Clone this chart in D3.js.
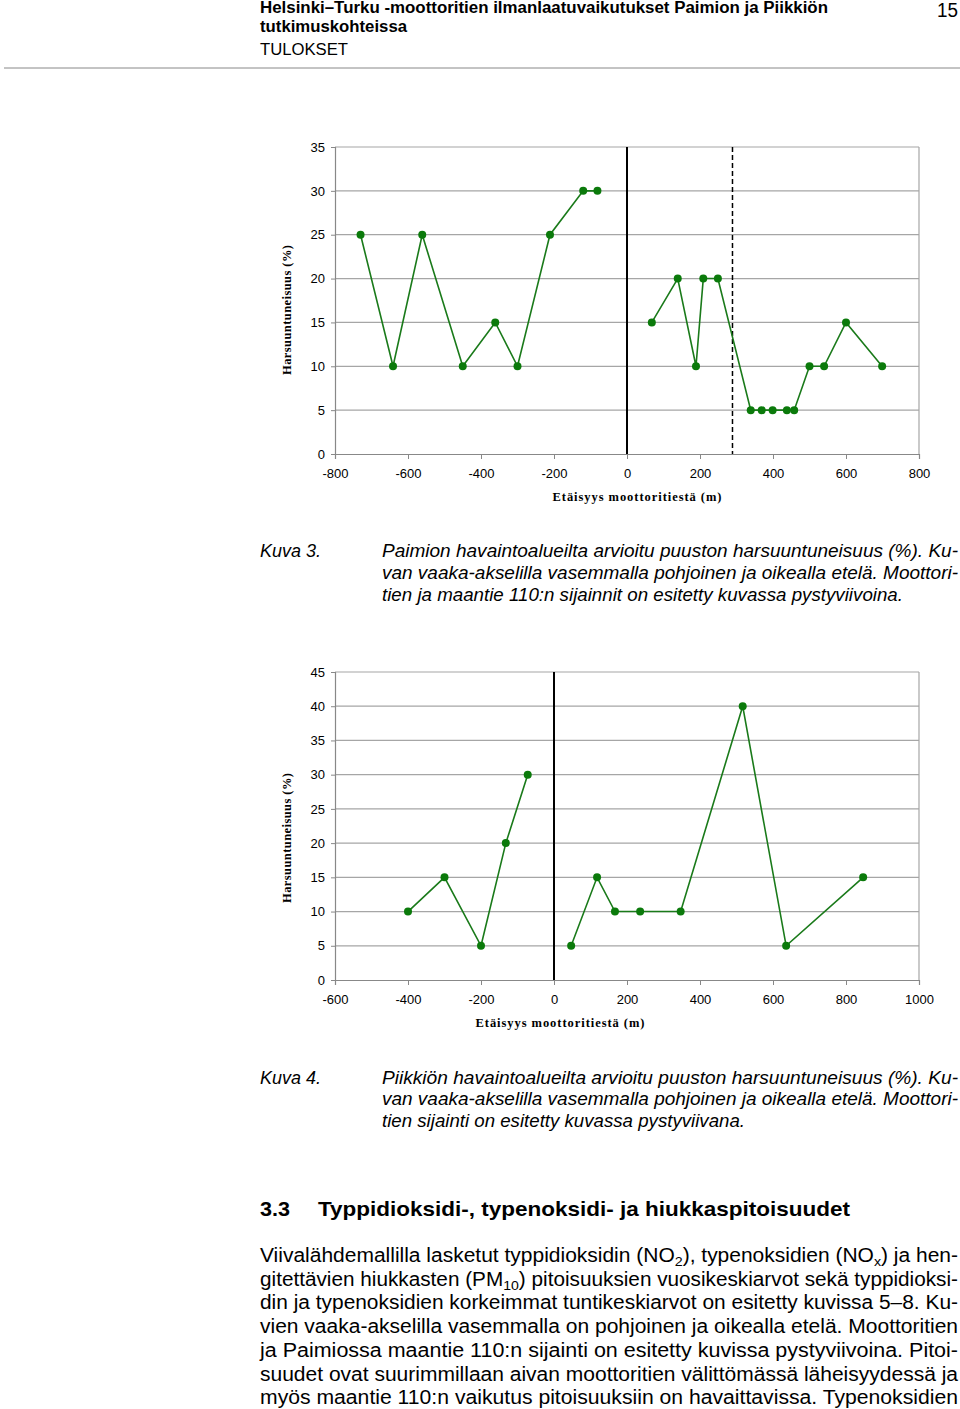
<!DOCTYPE html>
<html><head><meta charset="utf-8">
<script src="https://cdn.jsdelivr.net/npm/d3@7"></script>
<style>
html,body{margin:0;padding:0;background:#fff;}
svg{display:block;}
</style></head>
<body>
<script>
// ---- Data ----
// Kuva 3: Paimio
const paimioNorthX = [-730, -641, -561, -450, -361, -300, -211, -120, -81];
const paimioNorthY = [25, 10, 25, 10, 15, 10, 25, 30, 30];
const paimioSouthX = [68, 139, 189, 209, 249, 339, 369, 399, 438, 458, 500, 540, 600, 699];
const paimioSouthY = [15, 20, 10, 20, 20, 5, 5, 5, 5, 5, 10, 10, 15, 10];
const paimioRoads = [0];        // moottoritie (solid)
const paimioRoad110 = [289];    // maantie 110 (dashed)
const paimioXTicks = [-800, -600, -400, -200, 0, 200, 400, 600, 800];
const paimioYTicks = [0, 5, 10, 15, 20, 25, 30, 35];

// Kuva 4: Piikkiö
const piikkioNorthX = [-400, -300, -200, -132, -72];
const piikkioNorthY = [10, 15, 5, 20, 30];
const piikkioSouthX = [47, 118, 167, 236, 347, 517, 636, 847];
const piikkioSouthY = [5, 15, 10, 10, 10, 40, 5, 15];
const piikkioRoads = [0];
const piikkioXTicks = [-600, -400, -200, 0, 200, 400, 600, 800, 1000];
const piikkioYTicks = [0, 5, 10, 15, 20, 25, 30, 35, 40, 45];

const xTitle = "Etäisyys moottoritiestä (m)";
const yTitle = "Harsuuntuneisuus (%)";

// ---- Page ----
const W = 960, H = 1409;
const SANS = "Liberation Sans, Arial, sans-serif";
const SERIF = "Liberation Serif, Times New Roman, serif";
const svg = d3.select("body").append("svg").attr("width", W).attr("height", H)
  .attr("font-family", SANS);
svg.append("rect").attr("width", W).attr("height", H).attr("fill", "#fff");

function txt(x, y, s, opts = {}) {
  const size = opts.size || 16;
  const t = svg.append("text").attr("x", x).attr("y", y)
    .attr("font-family", SANS)
    .attr("font-size", size)
    .attr("fill", "#000")
    .attr("font-weight", opts.bold ? "bold" : null)
    .attr("font-style", opts.italic ? "italic" : null)
    .attr("text-anchor", opts.anchor || "start");
  if (Array.isArray(s)) {
    let shifted = false;
    s.forEach(p => {
      if (typeof p === "string") {
        t.append("tspan").attr("dy", shifted ? -4 : null).text(p);
        shifted = false;
      } else {
        t.append("tspan").attr("dy", 4).attr("font-size", size * 0.68).text(p.sub);
        shifted = true;
      }
    });
  } else t.text(s);
  if (opts.width) t.attr("textLength", opts.width).attr("lengthAdjust", "spacingAndGlyphs");
  return t;
}

// Header
txt(260, 13, "Helsinki–Turku -moottoritien ilmanlaatuvaikutukset Paimion ja Piikkiön", {size: 16, bold: true, width: 568});
txt(260, 32, "tutkimuskohteissa", {size: 16, bold: true, width: 147});
txt(260, 55, "TULOKSET", {size: 16, width: 88});
txt(958, 17, "15", {size: 20, anchor: "end", width: 21});
svg.append("line").attr("x1", 4).attr("x2", 960).attr("y1", 68).attr("y2", 68)
  .attr("stroke", "#888").attr("stroke-width", 1);

// ---- Chart builder ----
function chart(cfg) {
  const g = svg.append("g");
  const x = d3.scaleLinear().domain(cfg.xDomain).range([335, 919]);
  const y = d3.scaleLinear().domain(cfg.yDomain).range([cfg.bottom, cfg.top]);
  // grid
  g.selectAll(".grid").data(cfg.yTicks.slice(1)).join("line")
    .attr("x1", 335).attr("x2", 919).attr("y1", d => y(d)).attr("y2", d => y(d))
    .attr("stroke", "#a6a6a6").attr("stroke-width", 1.2);
  // right border
  g.append("line").attr("x1", 919).attr("x2", 919).attr("y1", cfg.top).attr("y2", cfg.bottom)
    .attr("stroke", "#a6a6a6").attr("stroke-width", 1.2);
  // axes
  const fmt = d => String(d);
  const ax = g.append("g").attr("transform", `translate(0,${cfg.bottom})`)
    .call(d3.axisBottom(x).tickValues(cfg.xTicks).tickSize(5).tickPadding(10).tickFormat(fmt));
  const ay = g.append("g").attr("transform", "translate(335,0)")
    .call(d3.axisLeft(y).tickValues(cfg.yTicks).tickSize(4).tickPadding(6).tickFormat(fmt));
  [ax, ay].forEach(a => {
    a.attr("font-family", SANS).attr("font-size", 13);
    a.select(".domain").attr("stroke", "#888").attr("stroke-width", 1.2);
    a.selectAll(".tick line").attr("stroke", "#888");
    a.selectAll("text").attr("fill", "#000");
  });
  // road lines
  cfg.solid.forEach(v => g.append("line").attr("x1", x(v)).attr("x2", x(v))
    .attr("y1", cfg.top).attr("y2", cfg.bottom).attr("stroke", "#000").attr("stroke-width", 2));
  (cfg.dashed || []).forEach(v => g.append("line").attr("x1", x(v)).attr("x2", x(v))
    .attr("y1", cfg.top).attr("y2", cfg.bottom).attr("stroke", "#000").attr("stroke-width", 1.5)
    .attr("stroke-dasharray", "5,3"));
  // series
  const line = d3.line().x(d => x(d[0])).y(d => y(d[1]));
  cfg.series.forEach(([xs, ys]) => {
    const pts = xs.map((v, i) => [v, ys[i]]);
    g.append("path").attr("d", line(pts)).attr("fill", "none")
      .attr("stroke", "#1a7a1a").attr("stroke-width", 1.6);
    g.selectAll(null).data(pts).join("circle")
      .attr("cx", d => x(d[0])).attr("cy", d => y(d[1])).attr("r", 4)
      .attr("fill", "#0b7a0b");
  });
  // titles
  svg.append("text").attr("x", cfg.xTitleX).attr("y", cfg.bottom + 47)
    .attr("text-anchor", "middle").attr("font-family", SERIF)
    .attr("font-weight", "bold").attr("font-size", 12.5).attr("fill", "#000")
    .attr("textLength", 169).attr("lengthAdjust", "spacing").text(xTitle);
  svg.append("text").attr("transform", `translate(291,${cfg.yTitleY}) rotate(-90)`)
    .attr("text-anchor", "middle").attr("font-family", SERIF)
    .attr("font-weight", "bold").attr("font-size", 12.5).attr("fill", "#000")
    .attr("textLength", 130).attr("lengthAdjust", "spacing").text(yTitle);
}

chart({
  xDomain: [-800, 800], yDomain: [0, 35], top: 147, bottom: 454,
  xTicks: paimioXTicks, yTicks: paimioYTicks,
  solid: paimioRoads, dashed: paimioRoad110,
  series: [[paimioNorthX, paimioNorthY], [paimioSouthX, paimioSouthY]],
  xTitleX: 637, yTitleY: 310
});

chart({
  xDomain: [-600, 1000], yDomain: [0, 45], top: 672, bottom: 980,
  xTicks: piikkioXTicks, yTicks: piikkioYTicks,
  solid: piikkioRoads,
  series: [[piikkioNorthX, piikkioNorthY], [piikkioSouthX, piikkioSouthY]],
  xTitleX: 560, yTitleY: 838
});

// Captions
const cs = 17.5;
txt(260, 557, "Kuva 3.", {size: cs, italic: true, width: 61});
txt(382, 557, "Paimion havaintoalueilta arvioitu puuston harsuuntuneisuus (%). Ku-", {size: cs, italic: true, width: 576});
txt(382, 579, "van vaaka-akselilla vasemmalla pohjoinen ja oikealla etelä. Moottori-", {size: cs, italic: true, width: 576});
txt(382, 601, "tien ja maantie 110:n sijainnit on esitetty kuvassa pystyviivoina.", {size: cs, italic: true, width: 521});

txt(260, 1084, "Kuva 4.", {size: cs, italic: true, width: 61});
txt(382, 1084, "Piikkiön havaintoalueilta arvioitu puuston harsuuntuneisuus (%). Ku-", {size: cs, italic: true, width: 576});
txt(382, 1105, "van vaaka-akselilla vasemmalla pohjoinen ja oikealla etelä. Moottori-", {size: cs, italic: true, width: 576});
txt(382, 1127, "tien sijainti on esitetty kuvassa pystyviivana.", {size: cs, italic: true, width: 363});

// Heading
txt(260, 1216, "3.3", {size: 21, bold: true, width: 30});
txt(318, 1216, "Typpidioksidi-, typenoksidi- ja hiukkaspitoisuudet", {size: 21, bold: true, width: 532});

// Body
const bodyLines = [
  ["Viivalähdemallilla lasketut typpidioksidin (NO", {sub: "2"}, "), typenoksidien (NO", {sub: "x"}, ") ja hen-"],
  ["gitettävien hiukkasten (PM", {sub: "10"}, ") pitoisuuksien vuosikeskiarvot sekä typpidioksi-"],
  ["din ja typenoksidien korkeimmat tuntikeskiarvot on esitetty kuvissa 5–8. Ku-"],
  ["vien vaaka-akselilla vasemmalla on pohjoinen ja oikealla etelä. Moottoritien"],
  ["ja Paimiossa maantie 110:n sijainti on esitetty kuvissa pystyviivoina. Pitoi-"],
  ["suudet ovat suurimmillaan aivan moottoritien välittömässä läheisyydessä ja"],
  ["myös maantie 110:n vaikutus pitoisuuksiin on havaittavissa. Typenoksidien"]
];
bodyLines.forEach((l, i) => txt(260, 1262 + i * 23.7, l, {size: 19.5, width: 698}));
</script>
</body></html>
